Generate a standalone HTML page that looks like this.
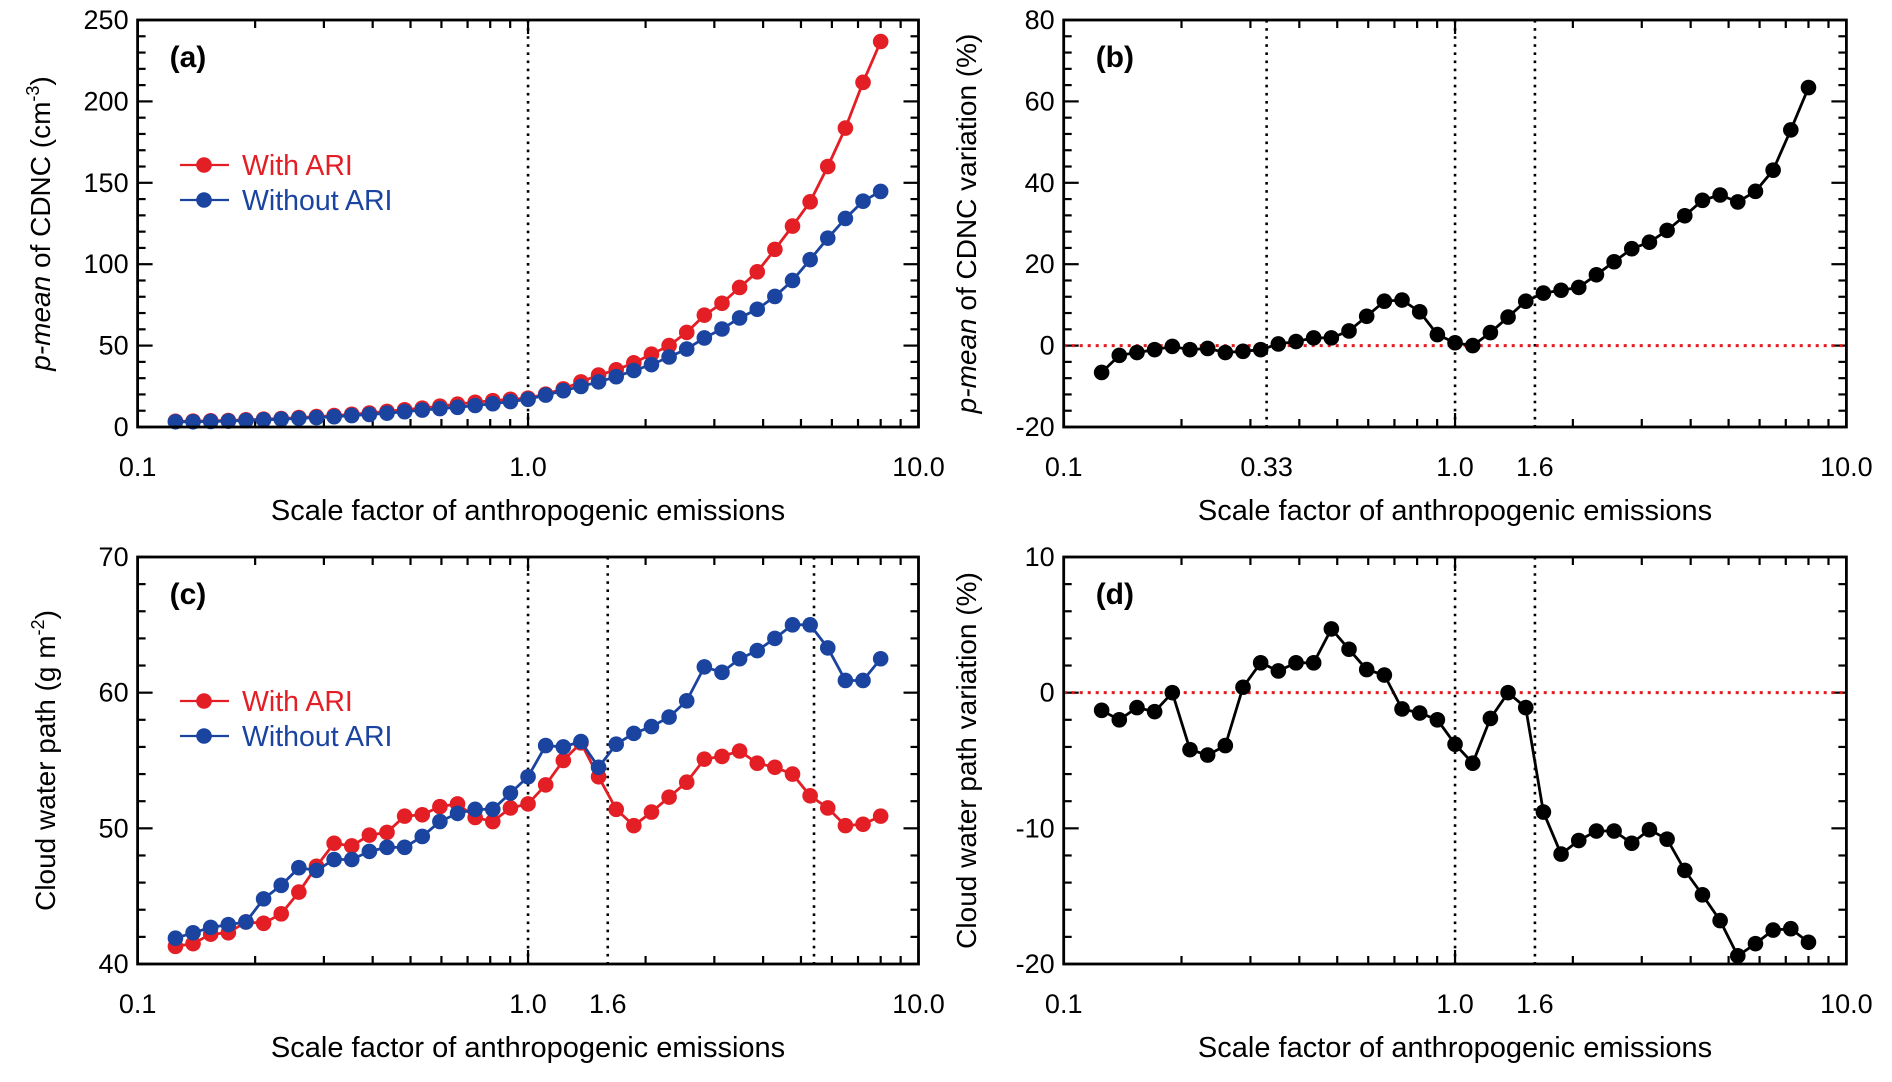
<!DOCTYPE html>
<html><head><meta charset="utf-8"><style>
html,body{margin:0;padding:0;background:#fff;}
svg{display:block;font-family:"Liberation Sans",Arial,sans-serif;}
</style></head><body>
<svg id="fig" width="1892" height="1082" viewBox="0 0 1892 1082" xmlns="http://www.w3.org/2000/svg"></svg>
<script>
const xFactors = Array.from({length:41},(_, i)=>Math.pow(2,-3+0.15*i));
const cdncWith = [3.5,3.6,3.8,4.0,4.4,4.8,5.2,5.8,6.4,7.0,7.8,8.6,9.6,10.6,11.6,12.8,14.0,15.2,16.2,17.0,17.7,20.2,23.4,27.7,31.9,35.1,39.4,44.7,50,58.1,68.7,76,85.7,95.3,109.1,123.4,138.3,160,183.6,211.7,236.8];
const cdncWithout = [3.2,3.2,3.4,3.6,4.0,4.4,4.8,5.3,5.8,6.3,7.0,7.7,8.5,9.4,10.4,11.3,12.1,13.2,14.3,15.6,17,19.6,22.3,24.9,27.7,30.9,34.7,38.3,43,47.9,54.7,60.2,67,72.3,80.2,90,102.8,116,128.1,138.7,144.7];
const cdncVar = [-6.6,-2.4,-1.7,-1.0,-0.2,-1.0,-0.7,-1.7,-1.4,-1.0,0.4,1.0,1.9,1.9,3.6,7.2,10.9,11.2,8.3,2.7,0.7,0,3.2,7.0,10.9,12.9,13.6,14.3,17.4,20.6,23.8,25.4,28.3,31.9,35.7,37,35.3,37.9,43.1,53,63.4];
const cwpWith = [41.3,41.5,42.2,42.3,43.1,43.0,43.7,45.3,47.2,48.9,48.7,49.5,49.7,50.9,51.0,51.6,51.8,50.8,50.5,51.5,51.8,53.2,55.0,56.3,53.8,51.4,50.2,51.2,52.3,53.4,55.1,55.3,55.7,54.8,54.5,54.0,52.4,51.5,50.2,50.3,50.9];
const cwpWithout = [41.9,42.3,42.7,42.9,43.1,44.8,45.8,47.1,46.9,47.7,47.7,48.3,48.6,48.6,49.4,50.5,51.1,51.4,51.4,52.6,53.8,56.1,56.0,56.4,54.5,56.2,57.0,57.5,58.2,59.4,61.9,61.5,62.5,63.1,64.0,65.0,65.0,63.3,60.9,60.9,62.5];
const cwpVar = [-1.3,-2.0,-1.1,-1.4,0,-4.2,-4.6,-3.9,0.4,2.2,1.6,2.2,2.2,4.7,3.2,1.7,1.3,-1.2,-1.5,-2.0,-3.8,-5.2,-1.9,0,-1.1,-8.8,-11.9,-10.9,-10.2,-10.2,-11.1,-10.1,-10.8,-13.1,-14.9,-16.8,-19.4,-18.5,-17.5,-17.4,-18.4];
const xTickLabelsA = ["0.1","1.0","10.0"];
const xTickValsA = [0.1,1,10];

const NS="http://www.w3.org/2000/svg";
const svg=document.getElementById('fig');
function el(tag,attrs,parent){const e=document.createElementNS(NS,tag);for(const k in attrs)e.setAttribute(k,attrs[k]);(parent||svg).appendChild(e);return e;}

function panel(o){
  const g=el('g',{});
  
  
  const L=o.L,R=o.R,T=o.T,B=o.B;
  const xs=v=>L+(Math.log10(v)+1)/2*(R-L);
  const ys=v=>B-(v-o.ymin)/(o.ymax-o.ymin)*(B-T);
  for(let d=-1;d<1;d++){for(let m=2;m<=9;m++){const v=m*Math.pow(10,d);const x=xs(v);const len=8;
    el('line',{x1:x,y1:B,x2:x,y2:B-len,stroke:'#000','stroke-width':2.2},g);
    el('line',{x1:x,y1:T,x2:x,y2:T+len,stroke:'#000','stroke-width':2.2},g);}}
  [0.1,1,10].forEach(v=>{const x=xs(v);el('line',{x1:x,y1:B,x2:x,y2:B-14,stroke:'#000','stroke-width':2.2},g);el('line',{x1:x,y1:T,x2:x,y2:T+14,stroke:'#000','stroke-width':2.2},g);});
  for(let v=o.ymin;v<=o.ymax+1e-9;v+=o.minor){const y=ys(v);const maj=Math.abs(Math.round(v/o.major)*o.major-v)<1e-6;const len=maj?15:8;
    el('line',{x1:L,y1:y,x2:L+len,y2:y,stroke:'#000','stroke-width':2.2},g);
    el('line',{x1:R,y1:y,x2:R-len,y2:y,stroke:'#000','stroke-width':2.2},g);}
  o.yLabels.forEach(v=>{const t=el('text',{x:L-9,y:ys(v)+9,'text-anchor':'end','font-size':27},g);t.textContent=String(v);
    });
  o.xLabels.forEach((s,i)=>{const t=el('text',{x:xs(o.xVals[i]),y:B+49,'text-anchor':'middle','font-size':27},g);t.textContent=s;
    });
  o.vlines.forEach(v=>{const l=el('line',{x1:xs(v),y1:T,x2:xs(v),y2:B,stroke:'#000','stroke-width':2.6,'stroke-dasharray':'2.6,5.5'},g);
    });
  if(o.zeroLine){const l=el('line',{x1:L,y1:ys(0),x2:R,y2:ys(0),stroke:'#e41a1c','stroke-width':3,'stroke-dasharray':'3,5'},g);
    }
  o.series.forEach(s=>{
    const pts=s.data.map((v,i)=>xs(xFactors[i]).toFixed(1)+','+ys(v).toFixed(1)).join(' ');
    const pl=el('polyline',{points:pts,fill:'none',stroke:s.color,'stroke-width':2.8},g);
    
    s.data.forEach((v,i)=>{const c=el('circle',{cx:xs(xFactors[i]),cy:ys(v),r:7.8,fill:s.color},g);
      });
  });
  const fr=el('rect',{x:L,y:T,width:R-L,height:B-T,fill:'none',stroke:'#000','stroke-width':2.8},g);
  
  const pl=el('text',{x:L+32,y:T+47,'font-size':30,'font-weight':'bold'},g);pl.textContent=o.tag;
  
  const xt=el('text',{x:(L+R)/2,y:B+93,'text-anchor':'middle','font-size':29},g);xt.textContent='Scale factor of anthropogenic emissions';
  
  const yt=el('text',{x:0,y:0,'text-anchor':'middle','font-size':28,transform:`translate(${o.ytx},${(T+B)/2}) rotate(-90)`},g);
  yt.innerHTML=o.ytitle;
  
  if(o.legend){o.series.forEach((s,i)=>{const y=o.legY[i];
    const lg=el('g',{},g);
    el('line',{x1:180,y1:y,x2:229,y2:y,stroke:s.color,'stroke-width':2.2},lg);
    el('circle',{cx:204,cy:y,r:7.8,fill:s.color},lg);
    const t=el('text',{x:242,y:y+10,'font-size':28.5,fill:s.color},lg);t.textContent=s.label;});}
}
const red='#e41e25',blue='#1a44a0';
panel({name:'panel-a',tag:'(a)',L:137.6,R:918.5,T:20,B:427,ymin:0,ymax:250,major:50,minor:10,yLabels:[0,50,100,150,200,250],
  xLabels:xTickLabelsA,xVals:xTickValsA,vlines:[1],zeroLine:false,ytx:50,
  ytitle:'<tspan font-style="italic">p-mean</tspan> of CDNC (cm<tspan dy="-11" font-size="18">-3</tspan><tspan dy="11">)</tspan>',
  legend:true,legY:[165,200],
  series:[{name:'with-ari',label:'With ARI',color:red,data:cdncWith},{name:'without-ari',label:'Without ARI',color:blue,data:cdncWithout}]});
panel({name:'panel-b',tag:'(b)',L:1063.7,R:1846.4,T:20,B:427,ymin:-20,ymax:80,major:20,minor:4,yLabels:[-20,0,20,40,60,80],
  xLabels:["0.1","0.33","1.0","1.6","10.0"],xVals:[0.1,0.33,1,1.6,10],vlines:[0.33,1,1.6],zeroLine:true,ytx:976,
  ytitle:'<tspan font-style="italic">p-mean</tspan> of CDNC variation (%)',legend:false,
  series:[{name:'cdnc-variation',color:'#000',data:cdncVar}]});
panel({name:'panel-c',tag:'(c)',L:137.6,R:918.5,T:557,B:964,ymin:40,ymax:70,major:10,minor:2,yLabels:[40,50,60,70],
  xLabels:["0.1","1.0","1.6","10.0"],xVals:[0.1,1,1.6,10],vlines:[1,1.6,5.4],zeroLine:false,ytx:55,
  ytitle:'Cloud water path (g m<tspan dy="-11" font-size="18">-2</tspan><tspan dy="11">)</tspan>',
  legend:true,legY:[701,736],
  series:[{name:'with-ari',label:'With ARI',color:red,data:cwpWith},{name:'without-ari',label:'Without ARI',color:blue,data:cwpWithout}]});
panel({name:'panel-d',tag:'(d)',L:1063.7,R:1846.4,T:557,B:964,ymin:-20,ymax:10,major:10,minor:2,yLabels:[-20,-10,0,10],
  xLabels:["0.1","1.0","1.6","10.0"],xVals:[0.1,1,1.6,10],vlines:[1,1.6],zeroLine:true,ytx:976,
  ytitle:'Cloud water path variation (%)',legend:false,
  series:[{name:'cwp-variation',color:'#000',data:cwpVar}]});
</script>
</body></html>
